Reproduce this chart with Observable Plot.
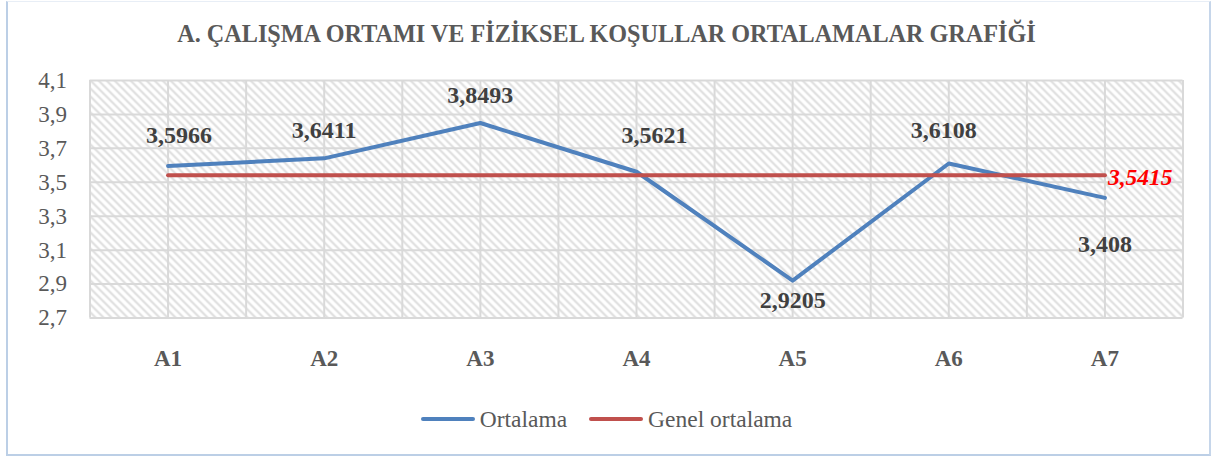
<!DOCTYPE html>
<html>
<head>
<meta charset="utf-8">
<script src="https://cdn.jsdelivr.net/npm/d3@7"></script>
<script src="https://cdn.jsdelivr.net/npm/@observablehq/plot@0.6"></script>
<style>
  html, body { margin: 0; padding: 0; background: #fff; }
  #chart {
    position: relative; width: 1213px; height: 459px; box-sizing: border-box;
    font-family: "Liberation Serif", "Times New Roman", serif;
  }
  #frame {
    position: absolute; left: 6px; top: 1px; width: 1205px; height: 455px; box-sizing: border-box;
    border-top: 1px solid #e8eef6; border-right: 2px solid #c6d6ea;
    border-left: 2px solid #bccfe6; border-bottom: 2px solid #bccfe6;
  }
  #title {
    position: absolute; left: 0; top: 19px; width: 1213px; text-align: center;
    font-weight: bold; font-size: 24.2px; color: #595959; line-height: 30px;
  }
  #plot { position: absolute; left: 0; top: 62px; }
  #legend {
    position: absolute; left: 0; top: 406px; width: 1213px; display: flex; justify-content: center;
    align-items: center; font-size: 23.5px; color: #595959; line-height: 26px;
  }
  .item { display: flex; align-items: center; margin: 0 11px; }
  .sw { display: inline-block; width: 54px; height: 4px; border-radius: 2px; margin-right: 5px; }
</style>
</head>
<body>
<div id="chart">
  <div id="frame"></div>
  <div id="title"></div>
  <div id="plot"></div>
  <div id="legend"></div>
</div>
<script>
const title = "A. ÇALIŞMA ORTAMI VE FİZİKSEL KOŞULLAR ORTALAMALAR GRAFİĞİ";
const categories = ["A1", "A2", "A3", "A4", "A5", "A6", "A7"];
const ortalama = [3.5966, 3.6411, 3.8493, 3.5621, 2.9205, 3.6108, 3.408];
const genelOrtalama = 3.5415;
const yTicks = [2.7, 2.9, 3.1, 3.3, 3.5, 3.7, 3.9, 4.1];
const seriesNames = ["Ortalama", "Genel ortalama"];
const seriesColors = ["#4f81bd", "#c0504d"];
// data-label placement (pixel offsets from each point), as in the original
const labelOffsets = {A1: [11, -31], A2: [0, -28], A3: [0, -28], A4: [18, -36], A5: [0, 20], A6: [-5, -33], A7: [0, 46]};

const comma = v => String(v).replace(".", ",");
const rows = categories.map((c, i) => ({i: i + 1, cat: c, v: ortalama[i], g: genelOrtalama}));
const n = categories.length;
const vGrid = d3.range(1, 2 * n + 2).map(k => k / 2);

document.getElementById("title").textContent = title;

const labelMarks = rows.map(d => Plot.text([d], {
  x: "i", y: "v", text: r => comma(r.v),
  dx: labelOffsets[d.cat][0], dy: labelOffsets[d.cat][1],
  fontSize: 24, fontWeight: "bold", fill: "#404040"
}));

const plot = Plot.plot({
  width: 1213,
  height: 320,
  marginTop: 18,
  marginBottom: 64.5,
  marginLeft: 89.5,
  marginRight: 30.5,
  style: {fontFamily: "'Liberation Serif', 'Times New Roman', serif", fontSize: "23px", background: "transparent"},
  x: {type: "linear", domain: [0.5, n + 0.5]},
  y: {domain: [yTicks[0], yTicks[yTicks.length - 1]]},
  marks: [
    Plot.frame({fill: "url(#hatchPat)", stroke: "none"}),
    Plot.ruleY(yTicks, {stroke: "#d9d9d9", strokeWidth: 2}),
    Plot.ruleX(vGrid, {stroke: "#d9d9d9", strokeWidth: 2}),
    Plot.axisY({ticks: yTicks, tickSize: 0, tickPadding: 23, tickFormat: d => d.toFixed(1).replace(".", ","), fill: "#595959", fontSize: 23, label: null}),
    Plot.axisX({ticks: rows.map(d => d.i), tickSize: 0, tickPadding: 32, tickFormat: i => categories[i - 1], fill: "#595959", fontSize: 23, fontWeight: "bold", label: null}),
    Plot.line(rows, {x: "i", y: "v", stroke: seriesColors[0], strokeWidth: 4, strokeLinecap: "round", strokeLinejoin: "round"}),
    Plot.line(rows, {x: "i", y: "g", stroke: seriesColors[1], strokeWidth: 4, strokeLinecap: "round"}),
    ...labelMarks,
    Plot.text(rows.slice(-1), {x: "i", y: "g", text: d => comma(d.g), textAnchor: "start", dx: 3, dy: 2, fontSize: 23.5, fontWeight: "bold", fontStyle: "italic", fill: "#ff0000"})
  ]
});

const ns = "http://www.w3.org/2000/svg";
const defs = document.createElementNS(ns, "defs");
const pat = document.createElementNS(ns, "pattern");
pat.setAttribute("id", "hatchPat");
pat.setAttribute("patternUnits", "userSpaceOnUse");
pat.setAttribute("width", "8");
pat.setAttribute("height", "8");
const p = document.createElementNS(ns, "path");
p.setAttribute("d", "M-2,-2 L10,10 M-2,6 L2,10 M6,-2 L10,2");
p.setAttribute("stroke", "#dedede");
p.setAttribute("stroke-width", "2.2");
pat.appendChild(p);
defs.appendChild(pat);
plot.insertBefore(defs, plot.firstChild);
document.getElementById("plot").appendChild(plot);

const legend = document.getElementById("legend");
seriesNames.forEach((name, k) => {
  const item = document.createElement("div");
  item.className = "item";
  const sw = document.createElement("span");
  sw.className = "sw";
  sw.style.background = seriesColors[k];
  const t = document.createElement("span");
  t.textContent = name;
  item.appendChild(sw);
  item.appendChild(t);
  legend.appendChild(item);
});
</script>
</body>
</html>
